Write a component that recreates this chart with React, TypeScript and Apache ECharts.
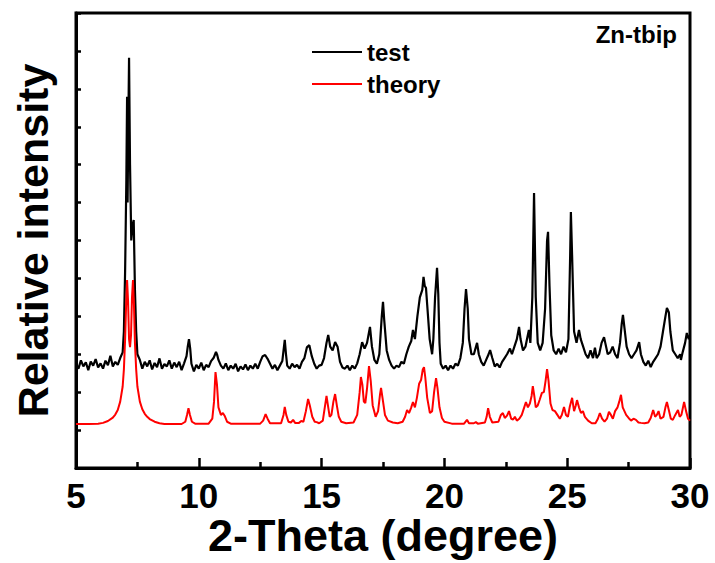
import React, { useEffect, useRef } from "react";
import * as echarts from "echarts";

const xTicks = [5, 10, 15, 20, 25, 30];
const seriesNames = ["test", "theory"];
const sampleLabel = "Zn-tbip";

const testData: [number, number][] = [
  [5.0, 275], [5.1, 262], [5.2, 284], [5.3, 268], [5.4, 279], [5.5, 258], [5.6, 281], [5.7, 270], [5.8, 287], [5.9, 265],
  [6.0, 276], [6.1, 262], [6.2, 283], [6.3, 271], [6.4, 296], [6.5, 268], [6.6, 280], [6.7, 272], [6.8, 290], [6.9, 305],
  [6.95, 360], [7.0, 520], [7.05, 760], [7.08, 979], [7.1, 700], [7.13, 900], [7.16, 1082], [7.2, 800], [7.25, 600],
  [7.3, 640], [7.35, 654], [7.4, 470], [7.45, 360], [7.5, 300], [7.6, 285], [7.7, 262], [7.8, 280], [7.9, 268],
  [8.0, 284], [8.1, 260], [8.2, 277], [8.3, 266], [8.4, 289], [8.5, 262], [8.6, 274], [8.7, 268], [8.8, 284], [8.9, 262],
  [9.0, 278], [9.1, 266], [9.2, 280], [9.3, 258], [9.4, 276], [9.5, 295], [9.55, 320], [9.6, 340], [9.65, 315], [9.7, 275],
  [9.8, 255], [9.9, 272], [10.0, 262], [10.1, 278], [10.2, 258], [10.3, 272], [10.4, 266], [10.5, 282], [10.6, 290],
  [10.7, 306], [10.75, 298], [10.8, 285], [10.9, 270], [11.0, 262], [11.1, 276], [11.2, 258], [11.3, 270], [11.4, 262],
  [11.5, 275], [11.6, 255], [11.7, 268], [11.8, 260], [11.9, 273], [12.0, 258], [12.1, 270], [12.2, 262], [12.3, 275],
  [12.4, 262], [12.5, 280], [12.6, 295], [12.7, 298], [12.8, 288], [12.9, 275], [13.0, 262], [13.1, 272], [13.2, 258],
  [13.3, 270], [13.4, 282], [13.5, 338], [13.55, 300], [13.6, 270], [13.7, 262], [13.8, 275], [13.9, 266], [14.0, 272],
  [14.1, 262], [14.2, 280], [14.3, 290], [14.4, 318], [14.5, 324], [14.6, 295], [14.7, 275], [14.8, 262], [14.9, 270],
  [15.0, 272], [15.1, 290], [15.2, 330], [15.27, 351], [15.35, 320], [15.45, 310], [15.55, 332], [15.65, 320],
  [15.75, 280], [15.85, 265], [15.95, 262], [16.05, 270], [16.15, 258], [16.25, 270], [16.35, 262], [16.45, 276],
  [16.55, 300], [16.65, 332], [16.75, 315], [16.85, 330], [16.97, 372], [17.05, 320], [17.15, 285], [17.25, 275],
  [17.35, 300], [17.45, 400], [17.5, 438], [17.55, 390], [17.65, 310], [17.75, 285], [17.85, 270], [17.95, 262],
  [18.05, 270], [18.15, 266], [18.25, 280], [18.35, 275], [18.45, 300], [18.55, 320], [18.65, 335], [18.72, 364],
  [18.8, 340], [18.9, 400], [19.0, 450], [19.1, 470], [19.15, 504], [19.2, 480], [19.25, 475], [19.3, 430], [19.4, 340],
  [19.5, 300], [19.55, 340], [19.62, 450], [19.7, 528], [19.75, 460], [19.8, 330], [19.85, 275], [19.95, 262],
  [20.05, 270], [20.15, 258], [20.25, 270], [20.35, 262], [20.45, 275], [20.55, 270], [20.65, 290], [20.75, 330],
  [20.82, 420], [20.88, 472], [20.95, 420], [21.0, 340], [21.1, 300], [21.2, 300], [21.33, 330], [21.4, 300],
  [21.5, 280], [21.6, 270], [21.7, 285], [21.8, 300], [21.86, 311], [21.95, 290], [22.05, 268], [22.15, 275],
  [22.25, 265], [22.35, 280], [22.45, 290], [22.55, 300], [22.67, 315], [22.75, 300], [22.85, 320], [22.95, 340],
  [23.04, 372], [23.1, 340], [23.2, 310], [23.3, 320], [23.44, 364], [23.5, 330], [23.58, 450], [23.65, 725],
  [23.72, 450], [23.8, 330], [23.9, 310], [24.0, 330], [24.1, 420], [24.18, 600], [24.22, 623], [24.28, 480],
  [24.35, 350], [24.45, 310], [24.55, 300], [24.65, 315], [24.75, 300], [24.85, 320], [24.95, 305], [25.05, 340],
  [25.12, 560], [25.15, 675], [25.2, 560], [25.28, 360], [25.38, 330], [25.48, 364], [25.55, 340], [25.65, 320],
  [25.75, 300], [25.85, 290], [25.95, 310], [26.05, 290], [26.13, 317], [26.2, 290], [26.3, 300], [26.4, 330],
  [26.5, 345], [26.55, 330], [26.65, 300], [26.75, 305], [26.85, 320], [26.95, 300], [27.05, 290], [27.15, 330],
  [27.22, 380], [27.27, 404], [27.33, 370], [27.42, 320], [27.52, 300], [27.62, 290], [27.72, 300], [27.82, 310],
  [27.93, 332], [28.0, 300], [28.1, 280], [28.2, 270], [28.3, 283], [28.4, 266], [28.5, 280], [28.6, 290], [28.7, 300],
  [28.8, 320], [28.9, 360], [29.0, 400], [29.06, 422], [29.14, 410], [29.2, 360], [29.3, 310], [29.4, 300], [29.5, 290],
  [29.6, 300], [29.63, 285], [29.7, 305], [29.8, 330], [29.87, 356], [29.95, 340], [30.0, 350],
];

const theoryData: [number, number][] = [
  [5.0, 116], [5.5, 116], [5.9, 117], [6.1, 119], [6.3, 124], [6.5, 133], [6.6, 141], [6.7, 153], [6.8, 175], [6.9, 215],
  [6.95, 260], [7.0, 340], [7.04, 430], [7.08, 496], [7.12, 440], [7.16, 340], [7.2, 319], [7.24, 350], [7.28, 450],
  [7.32, 496], [7.36, 430], [7.4, 330], [7.45, 260], [7.5, 215], [7.6, 175], [7.7, 155], [7.8, 143], [7.9, 135],
  [8.0, 129], [8.2, 122], [8.4, 118], [8.6, 116], [9.3, 116], [9.45, 122], [9.52, 140], [9.58, 158], [9.64, 140],
  [9.72, 122], [9.85, 117], [10.4, 117], [10.55, 130], [10.62, 175], [10.68, 253], [10.74, 220], [10.8, 160],
  [10.9, 140], [10.98, 145], [11.05, 138], [11.15, 122], [11.3, 117], [12.5, 117], [12.62, 125], [12.72, 142],
  [12.8, 130], [12.9, 118], [13.35, 118], [13.45, 140], [13.5, 161], [13.56, 140], [13.65, 122], [13.75, 120],
  [13.84, 127], [13.92, 119], [14.08, 119], [14.17, 124], [14.26, 122], [14.36, 150], [14.45, 182], [14.52, 165],
  [14.62, 135], [14.72, 122], [14.8, 121], [14.9, 118], [15.05, 125], [15.13, 160], [15.2, 190], [15.27, 160],
  [15.33, 135], [15.4, 140], [15.48, 175], [15.55, 195], [15.62, 165], [15.7, 135], [15.8, 122], [16.0, 118],
  [16.3, 120], [16.45, 140], [16.55, 200], [16.6, 240], [16.66, 220], [16.72, 175], [16.78, 171], [16.85, 210],
  [16.93, 269], [17.0, 230], [17.08, 165], [17.2, 135], [17.3, 150], [17.38, 195], [17.42, 211], [17.48, 185],
  [17.58, 140], [17.7, 125], [17.9, 120], [18.1, 118], [18.3, 122], [18.4, 135], [18.48, 153], [18.56, 145],
  [18.64, 158], [18.72, 174], [18.8, 160], [18.88, 185], [18.97, 222], [19.05, 232], [19.12, 260], [19.17, 266],
  [19.22, 240], [19.3, 185], [19.41, 145], [19.5, 150], [19.58, 200], [19.66, 237], [19.72, 210], [19.8, 160],
  [19.9, 132], [20.0, 122], [20.3, 117], [20.8, 117], [20.92, 127], [21.0, 118], [21.2, 118], [21.28, 121],
  [21.36, 117], [21.65, 120], [21.72, 135], [21.78, 158], [21.85, 135], [21.95, 120], [22.2, 122], [22.3, 140],
  [22.38, 145], [22.46, 132], [22.55, 138], [22.63, 150], [22.72, 130], [22.8, 128], [22.87, 135], [22.95, 125],
  [23.05, 130], [23.15, 140], [23.25, 160], [23.32, 174], [23.4, 160], [23.48, 170], [23.55, 190], [23.6, 216],
  [23.66, 190], [23.72, 160], [23.8, 165], [23.88, 180], [23.97, 198], [24.05, 200], [24.12, 230], [24.18, 261],
  [24.24, 230], [24.32, 170], [24.4, 153], [24.5, 150], [24.6, 140], [24.7, 130], [24.78, 140], [24.87, 161],
  [24.95, 140], [25.03, 135], [25.1, 160], [25.2, 185], [25.28, 150], [25.35, 165], [25.4, 179], [25.48, 160],
  [25.56, 145], [25.64, 150], [25.72, 135], [25.85, 125], [26.0, 118], [26.15, 118], [26.25, 130], [26.33, 145],
  [26.42, 130], [26.52, 122], [26.62, 130], [26.7, 148], [26.78, 140], [26.86, 130], [26.95, 150], [27.05, 160],
  [27.12, 175], [27.19, 193], [27.26, 160], [27.33, 150], [27.4, 140], [27.5, 132], [27.6, 125], [27.7, 130],
  [27.8, 127], [27.9, 120], [28.0, 119], [28.15, 118], [28.3, 120], [28.4, 132], [28.5, 153], [28.58, 135],
  [28.65, 140], [28.72, 150], [28.8, 130], [28.92, 135], [29.0, 160], [29.06, 174], [29.13, 155], [29.22, 130],
  [29.3, 127], [29.4, 140], [29.51, 153], [29.58, 135], [29.65, 140], [29.76, 174], [29.84, 150], [29.92, 130],
  [30.0, 125],
];

const FONT = "'Liberation Sans', Arial, sans-serif";

export default function App() {
  const ref = useRef<HTMLDivElement>(null);
  useEffect(() => {
    if (!ref.current) return;
    const chart = echarts.init(ref.current, null, { renderer: "svg" });
    chart.setOption({
      animation: false,
      backgroundColor: "#ffffff",
      grid: {
        left: 76,
        right: 25,
        top: 13,
        bottom: 95,
        containLabel: false,
        outerBoundsMode: "none",
        show: true,
        borderColor: "#000",
        borderWidth: 3,
        backgroundColor: "transparent",
      },
      legend: {
        data: seriesNames,
        orient: "vertical",
        left: 307,
        top: 35,
        icon: "rect",
        itemWidth: 50,
        itemHeight: 2,
        itemGap: 8,
        textStyle: {
          fontFamily: FONT,
          fontWeight: "bold",
          fontSize: 24,
          lineHeight: 24,
          color: "#000",
        },
      },
      graphic: [
        {
          type: "text",
          right: 38,
          top: 22,
          style: {
            text: sampleLabel,
            font: `bold 24px ${FONT}`,
            fill: "#000",
          },
        },
      ],
      xAxis: {
        type: "value",
        min: xTicks[0],
        max: xTicks[xTicks.length - 1],
        interval: 5,
        name: "2-Theta (degree)",
        nameLocation: "middle",
        nameGap: 47,
        nameMoveOverlap: false,
        nameTextStyle: {
          fontFamily: FONT,
          fontWeight: "bold",
          fontSize: 45,
          lineHeight: 40,
          color: "#000",
        },
        axisLine: { lineStyle: { color: "#000", width: 3 } },
        axisTick: { inside: true, length: 10, lineStyle: { color: "#000", width: 2.5 } },
        minorTick: { show: true, splitNumber: 2, length: 6, lineStyle: { color: "#000", width: 2.5 } },
        axisLabel: {
          fontFamily: FONT,
          fontWeight: "bold",
          fontSize: 35,
          lineHeight: 28,
          color: "#000",
          margin: 13,
        },
        splitLine: { show: false },
      },
      yAxis: {
        type: "value",
        min: 0,
        max: 1200,
        interval: 100,
        name: "Relative intensity",
        nameLocation: "middle",
        nameGap: 22,
        nameMoveOverlap: false,
        nameTextStyle: {
          fontFamily: FONT,
          fontWeight: "bold",
          fontSize: 43,
          color: "#000",
        },
        axisLine: { lineStyle: { color: "#000", width: 3 } },
        axisTick: { inside: true, length: 5, lineStyle: { color: "#000", width: 2.5 } },
        axisLabel: { show: false },
        splitLine: { show: false },
      },
      series: [
        {
          name: seriesNames[0],
          type: "line",
          data: testData,
          showSymbol: false,
          symbol: "none",
          lineStyle: { color: "#000", width: 2.2 },
          itemStyle: { color: "#000" },
        },
        {
          name: seriesNames[1],
          type: "line",
          data: theoryData,
          showSymbol: false,
          symbol: "none",
          lineStyle: { color: "#ff0000", width: 2 },
          itemStyle: { color: "#ff0000" },
        },
      ],
    });
    return () => chart.dispose();
  }, []);
  return (
    <div
      ref={ref}
      style={{ position: "fixed", left: 0, top: 0, width: 715, height: 563, background: "#fff" }}
    />
  );
}
